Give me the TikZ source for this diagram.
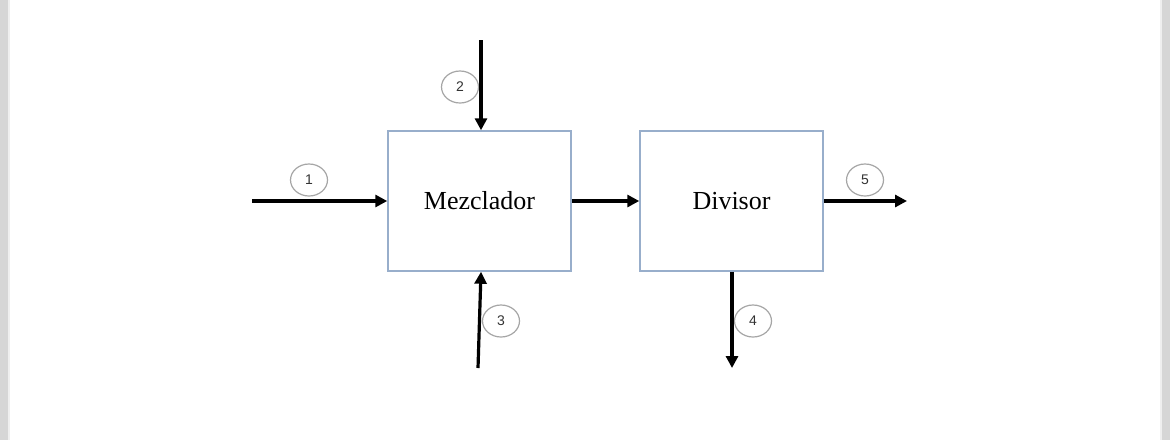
\documentclass[tikz,border=0pt]{standalone}
\usepackage{fontspec}
\setmainfont{Liberation Serif}
\newfontfamily\numfont{Liberation Sans}
\usetikzlibrary{positioning, arrows.meta, calc, shapes.geometric}

\definecolor{boxblue}{HTML}{98AECB}
\definecolor{ringgray}{HTML}{A6A6A6}
\definecolor{pagegray}{HTML}{D6D6D6}

\tikzset{
    unit/.style={draw=boxblue, line width=0.75pt, minimum width=91.5pt, minimum height=70pt, inner sep=0pt, font=\fontsize{13}{15}\selectfont},
    flow/.style={line width=1.6pt, -{Triangle[length=6pt,width=6pt]}},
    tag/.style={ellipse, draw=ringgray, line width=0.6pt, minimum width=18.5pt, minimum height=16pt, inner sep=0pt, text=black!80, font=\numfont\fontsize{7}{8}\selectfont}
}

\begin{document}
\begin{tikzpicture}[x=0.5pt, y=-0.5pt]
    \useasboundingbox (0,0) rectangle (1170,440);
    \fill[white] (0,0) rectangle (1170,440);
    % page edges
    \fill[pagegray] (0,0) rectangle (8,440);
    \fill[pagegray!40] (8,0) rectangle (10,440);
    \fill[pagegray] (1162,0) rectangle (1170,440);
    \fill[pagegray!40] (1160,0) rectangle (1162,440);

    \node[unit] (mez) at (479.5,201) {Mezclador};
    \node[unit] (div) at (731.5,201) {Divisor};

    \coordinate (in1) at (252,201);
    \coordinate (in2) at (481,40);
    \coordinate (in3) at (478,368);
    \coordinate (out4) at (732,368);
    \coordinate (out5) at (907,201);

    \node[tag] (c1) at (309,180) {1};
    \node[tag] (c2) at (460,87) {2};
    \node[tag] (c3) at (501,321) {3};
    \node[tag] (c4) at (753,321) {4};
    \node[tag] (c5) at (865,180) {5};

    \draw[flow] (in1) -- (mez.west);
    \draw[flow] (in2) -- (in2 |- mez.north);
    \draw[flow] (in3) -- (in2 |- mez.south);
    \draw[flow] (mez.east) -- (div.west);
    \draw[flow] (div.south -| out4) -- (out4);
    \draw[flow] (div.east) -- (out5);
\end{tikzpicture}
\end{document}
